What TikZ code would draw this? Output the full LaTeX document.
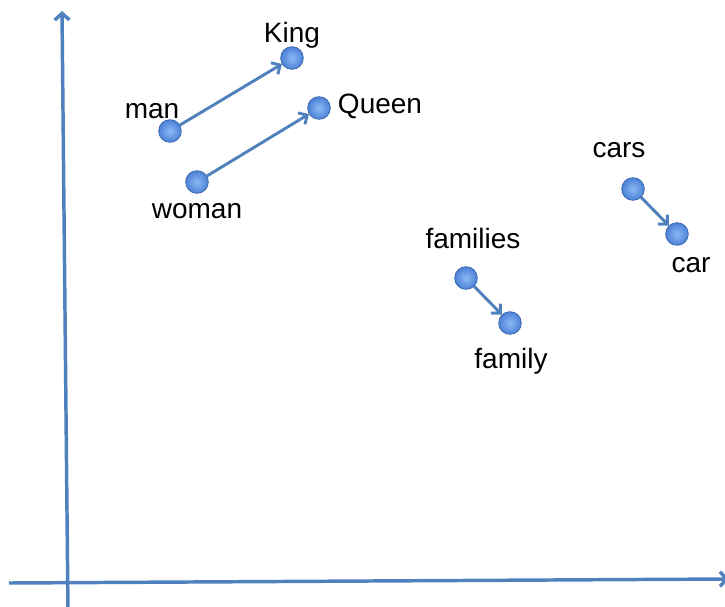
\documentclass[tikz,border=0pt]{standalone}
\usepackage{fontspec}
\setmainfont{Liberation Sans}
\usepackage{tikz}
\usetikzlibrary{arrows.meta,positioning}
\definecolor{axisblue}{RGB}{79,129,189}
\definecolor{balllight}{RGB}{140,185,245}
\definecolor{balldark}{RGB}{75,130,215}
\tikzstyle{every node}=[inner sep=0pt]
\tikzstyle{axis}=[draw=axisblue,line width=2.6pt,-{Straight Barb[length=5pt,width=11pt]}]
\tikzstyle{vec}=[draw=axisblue,line width=2.2pt,-{Straight Barb[length=5pt,width=10pt]}]
\tikzstyle{word}=[circle,minimum size=17pt,draw=balldark!80!black,line width=0.6pt,inner color=balllight,outer color=balldark]
\tikzstyle{lbl}=[font=\fontsize{21}{25}\selectfont]

\begin{document}
\begin{tikzpicture}[x=0.75pt,y=-0.75pt]
  \useasboundingbox (0,0) rectangle (725,607);
  % axes
  \coordinate (yfoot) at (68,612);
  \coordinate (ytop) at (62,11);
  \coordinate (xfoot) at (9,583);
  \coordinate (xtip) at (729,579);
  \draw[axis] (yfoot) -- (ytop);
  \draw[axis] (xfoot) -- (xtip);
  % words
  \node[word] (man) at (170,131) {};
  \node[word] (king) at (292,58) {};
  \node[word] (woman) at (197,182) {};
  \node[word] (queen) at (319,108) {};
  \node[word] (families) at (466,278) {};
  \node[word] (family) at (510,323) {};
  \node[word] (cars) at (633,189) {};
  \node[word] (car) at (677,234) {};
  \node[lbl] (manlbl) at (152,111) {man};
  \node[lbl] (kinglbl) at (292,35) {King};
  \node[lbl] (womanlbl) at (197,211) {woman};
  \node[lbl] (queenlbl) at (380,106) {Queen};
  \node[lbl] (familieslbl) at (473,238) {families};
  \node[lbl] (familylbl) at (511,361) {family};
  \node[lbl] (carslbl) at (619,150) {cars};
  \node[lbl] (carlbl) at (691,265) {car};
  % offsets
  \draw[vec] (man) -- (king);
  \draw[vec] (woman) -- (queen);
  \draw[vec] (families) -- (family);
  \draw[vec] (cars) -- (car);
\end{tikzpicture}
\end{document}
